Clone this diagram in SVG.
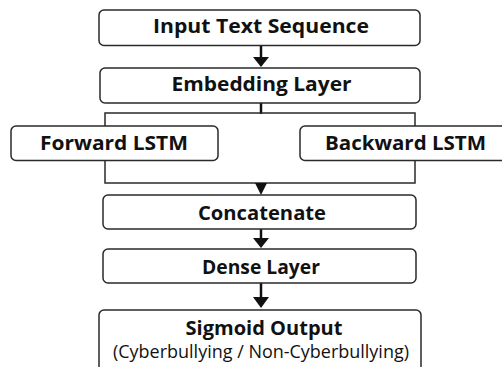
<svg xmlns="http://www.w3.org/2000/svg" width="502" height="367" viewBox="0 0 502 367">
<style>
.box{fill:#fff;stroke:#2a2a2a;stroke-width:1.5}
.t{font-family:"Open Sans","Noto Sans",sans-serif;font-weight:bold;font-size:19px;fill:#111;text-anchor:middle}
.s{font-family:"Open Sans","Noto Sans",sans-serif;font-size:17.5px;fill:#111;text-anchor:middle}
.ln{stroke:#111;stroke-width:2.5;fill:none}
.thin{stroke:#2a2a2a;stroke-width:1.5;fill:none}
</style>
<rect width="502" height="367" fill="#fff"/>
<g id="connectors">
<line class="ln" x1="261" y1="46" x2="261" y2="58"/>
<polygon points="253,57 269,57 261,67" fill="#111"/>
<line class="ln" x1="261" y1="103" x2="261" y2="114"/>
<rect id="bilstm-frame" class="thin" x="105" y="113" width="310" height="70"/>
<polygon points="255,183 267,183 261,195" fill="#111"/>
<line class="ln" x1="261" y1="229" x2="261" y2="239"/>
<polygon points="253,238 269,238 261,248" fill="#111"/>
<line class="ln" x1="261" y1="283" x2="261" y2="298"/>
<polygon points="253,297 269,297 261,308" fill="#111"/>
</g>
<g id="input"><rect class="box" x="99" y="10" width="321" height="35.5" rx="5"/><text class="t" x="261" y="33" textLength="216" lengthAdjust="spacingAndGlyphs">Input Text Sequence</text></g>
<g id="embedding"><rect class="box" x="100" y="68" width="320" height="35" rx="5"/><text class="t" x="261.5" y="91" textLength="180" lengthAdjust="spacingAndGlyphs">Embedding Layer</text></g>
<g id="forward"><rect class="box" x="11" y="126" width="207" height="34.5" rx="5"/><text class="t" x="114" y="149.5" textLength="148" lengthAdjust="spacingAndGlyphs">Forward LSTM</text></g>
<g id="backward"><rect class="box" x="300" y="126" width="210" height="34.5" rx="5"/><text class="t" x="405.5" y="149.5" textLength="161" lengthAdjust="spacingAndGlyphs">Backward LSTM</text></g>
<g id="concat"><rect class="box" x="103" y="195" width="313" height="34" rx="5"/><text class="t" x="262" y="219.5" textLength="128" lengthAdjust="spacingAndGlyphs">Concatenate</text></g>
<g id="dense"><rect class="box" x="103" y="249" width="313" height="34" rx="5"/><text class="t" x="261" y="273.5" textLength="118" lengthAdjust="spacingAndGlyphs">Dense Layer</text></g>
<g id="sigmoid"><rect class="box" x="99" y="310" width="322" height="70" rx="5"/><text class="t" x="264" y="335" textLength="157" lengthAdjust="spacingAndGlyphs">Sigmoid Output</text><text class="s" x="261" y="358" textLength="296" lengthAdjust="spacingAndGlyphs">(Cyberbullying / Non-Cyberbullying)</text></g>
</svg>
